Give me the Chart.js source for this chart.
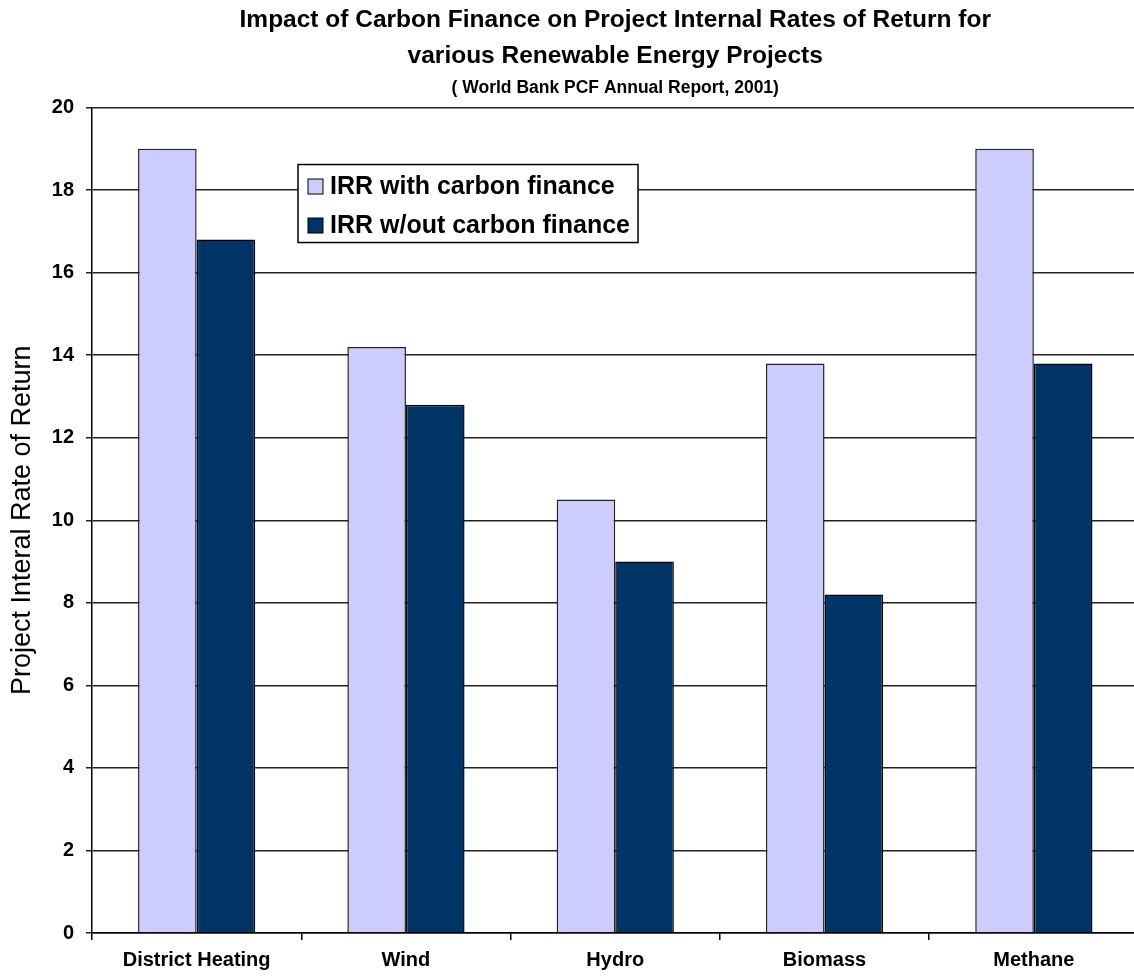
<!DOCTYPE html>
<html>
<head>
<meta charset="utf-8">
<script src="https://cdn.jsdelivr.net/npm/chart.js@4"></script>
<style>
  html, body { margin: 0; padding: 0; overflow: hidden; background: #fff; }
  #wrap { width: 1150px; height: 977px; }
</style>
</head>
<body>
<div id="wrap"><canvas id="irr" width="1150" height="977"></canvas></div>
<script>
const projects = ['District Heating', 'Wind', 'Hydro', 'Biomass', 'Methane'];
const irrWithCarbon = [19, 14.2, 10.5, 13.8, 19];
const irrWithoutCarbon = [16.8, 12.8, 9.0, 8.2, 13.8];
const yTicks = [0, 2, 4, 6, 8, 10, 12, 14, 16, 18, 20];

const FONT = "'Liberation Sans', Arial, sans-serif";

// legend box sits inside the plot, like the old excel chart
const insideLegend = {
    id: 'insideLegend',
    afterDatasetsDraw(chart) {
        const ctx = chart.ctx;
        const area = chart.chartArea;
        const x = area.left + 206;
        const y = area.top + 57;
        const rowH = 39;
        ctx.save();
        ctx.font = 'bold 25px ' + FONT;
        const widths = chart.data.datasets.map(ds => ctx.measureText(ds.label).width);
        const w = 10 + 15 + 7 + Math.max(...widths) + 8;
        const h = 78;
        ctx.fillStyle = '#fff';
        ctx.fillRect(x, y, w, h);
        ctx.strokeStyle = '#000';
        ctx.lineWidth = 1.5;
        ctx.strokeRect(x, y, w, h);
        chart.data.datasets.forEach((ds, i) => {
            const cy = y + 22 + i * rowH;
            ctx.fillStyle = ds.backgroundColor;
            ctx.fillRect(x + 10, cy - 7.5, 15, 15);
            ctx.lineWidth = 1;
            ctx.strokeRect(x + 10, cy - 7.5, 15, 15);
            ctx.fillStyle = '#000';
            ctx.textBaseline = 'middle';
            ctx.fillText(ds.label, x + 32, cy + 1);
        });
        ctx.restore();
    }
};

new Chart(document.getElementById('irr'), {
    type: 'bar',
    data: {
        labels: projects,
        datasets: [{
            label: 'IRR with carbon finance',
            data: irrWithCarbon,
            backgroundColor: '#CCCCFF',
            borderColor: '#222',
            borderWidth: 1.5,
            categoryPercentage: 0.56,
            barPercentage: 1
        }, {
            label: 'IRR w/out carbon finance',
            data: irrWithoutCarbon,
            backgroundColor: '#003366',
            borderColor: '#000',
            borderWidth: 1.5,
            categoryPercentage: 0.56,
            barPercentage: 1
        }]
    },
    options: {
        responsive: false,
        animation: false,
        devicePixelRatio: 1,
        layout: { padding: { left: 0, right: 11.5, top: 0, bottom: 0 } },
        plugins: {
            legend: { display: false },
            tooltip: { enabled: false },
            title: {
                display: true,
                fullSize: false,
                text: ['Impact of Carbon Finance on Project Internal Rates of Return for',
                       'various Renewable Energy Projects'],
                color: '#000',
                font: { family: FONT, size: 24.5, weight: 'bold', lineHeight: 1.48 },
                padding: { top: 2, bottom: 0 }
            },
            subtitle: {
                display: true,
                fullSize: false,
                text: '( World Bank PCF Annual Report, 2001)',
                color: '#000',
                font: { family: FONT, size: 17.5, weight: 'bold', lineHeight: 1.2 },
                padding: { top: 3, bottom: 9 }
            }
        },
        scales: {
            x: {
                grid: {
                    offset: true,
                    drawOnChartArea: false,
                    drawTicks: true,
                    tickLength: 7,
                    color: '#000',
                    lineWidth: 1.5
                },
                border: { color: '#000', width: 1.5 },
                ticks: {
                    color: '#000',
                    font: { family: FONT, size: 20, weight: 'bold' },
                    padding: 8,
                    maxRotation: 0,
                    autoSkip: false
                },
                afterFit(scale) { scale.height = 44; }
            },
            y: {
                min: 0,
                max: 20,
                afterBuildTicks(scale) { scale.ticks = yTicks.map(v => ({ value: v })); },
                grid: {
                    color: '#222',
                    lineWidth: 1.5,
                    tickLength: 6
                },
                border: { color: '#000', width: 1.5 },
                ticks: {
                    color: '#000',
                    font: { family: FONT, size: 20, weight: 'bold' },
                    padding: 12
                },
                title: {
                    display: true,
                    text: 'Project Interal Rate of Return',
                    color: '#000',
                    font: { family: FONT, size: 27, weight: 'normal' },
                    padding: { top: 6, bottom: 0 }
                },
                afterFit(scale) { scale.width = 92; }
            }
        }
    },
    plugins: [insideLegend]
});
</script>
</body>
</html>
